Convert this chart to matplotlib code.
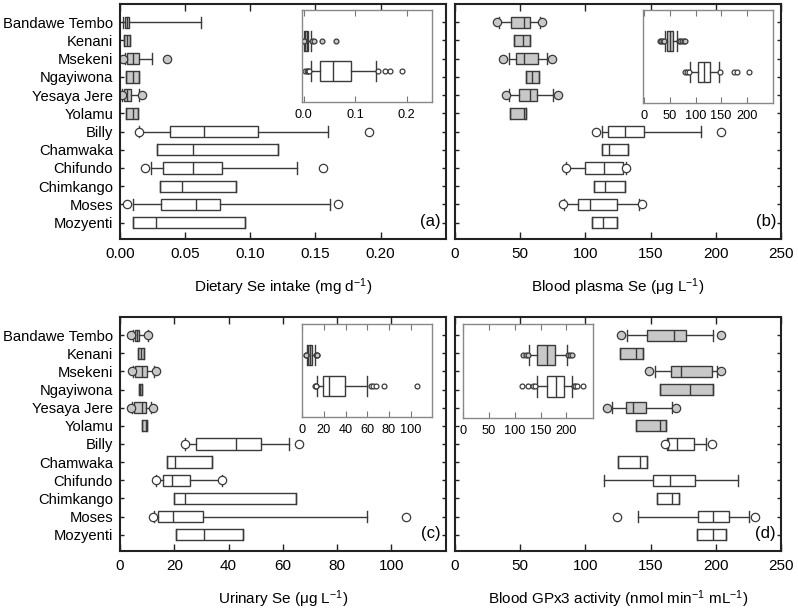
import matplotlib
matplotlib.use('Agg')
import matplotlib.pyplot as plt
import numpy as np

plt.rcParams['font.family'] = ['Liberation Sans', 'DejaVu Sans']
plt.rcParams['mathtext.default'] = 'regular'

villages = ['Bandawe Tembo', 'Kenani', 'Msekeni', 'Ngayiwona', 'Yesaya Jere', 'Yolamu',
            'Billy', 'Chamwaka', 'Chifundo', 'Chimkango', 'Moses', 'Mozyenti']
n_low = 6  # first six villages: low-Se soils (grey boxes)

# ---------------- (a) Dietary Se intake (mg/d) ----------------
diet_q1 = [0.0038, 0.0031, 0.0054, 0.0044, 0.0028, 0.0049, 0.0384, 0.0281, 0.0327, 0.0304, 0.0317, 0.0102]
diet_med = [0.0057, 0.0051, 0.0100, 0.0100, 0.0054, 0.0097, 0.0647, 0.0557, 0.0563, 0.0476, 0.0581, 0.0274]
diet_q3 = [0.0072, 0.0074, 0.0143, 0.0148, 0.0084, 0.0141, 0.1056, 0.1215, 0.0780, 0.0890, 0.0767, 0.0962]
diet_lo = [0.0020, 0.0031, 0.0040, 0.0044, 0.0018, 0.0049, 0.0148, 0.0281, 0.0235, 0.0304, 0.0102, 0.0102]
diet_hi = [0.0621, 0.0074, 0.0243, 0.0148, 0.0148, 0.0141, 0.1598, 0.1215, 0.1360, 0.0890, 0.1611, 0.0962]
diet_fl = [[], [], [0.0026, 0.0358], [], [0.0012, 0.0169], [], [0.0146, 0.1913], [],
           [0.0192, 0.1555], [], [0.0054, 0.1675], []]
# inset: [low-Se group, high-Se group]
diet_in_q1 = [0.0032, 0.031]
diet_in_med = [0.0060, 0.056]
diet_in_q3 = [0.0090, 0.091]
diet_in_lo = [0.0010, 0.014]
diet_in_hi = [0.0140, 0.140]
diet_in_fl = [[0.0003, 0.0006, 0.016, 0.019, 0.036, 0.062],
              [0.003, 0.006, 0.009, 0.011, 0.145, 0.157, 0.168, 0.192]]

# ---------------- (b) Blood plasma Se (ug/L) ----------------
plas_q1 = [42.9, 45.2, 46.8, 54.2, 49.3, 42.4, 117.3, 113.0, 99.5, 106.6, 94.6, 104.8]
plas_med = [53.2, 52.1, 53.2, 59.3, 57.3, 52.6, 130.6, 118.3, 114.3, 115.0, 103.5, 113.8]
plas_q3 = [57.7, 57.5, 63.7, 64.7, 63.1, 54.7, 145.2, 132.4, 128.6, 130.6, 124.5, 124.5]
plas_lo = [34.0, 45.2, 41.7, 54.2, 41.2, 42.4, 112.7, 113.0, 85.1, 106.6, 83.6, 104.8]
plas_hi = [65.2, 57.5, 70.5, 64.7, 75.4, 54.7, 188.7, 132.4, 131.1, 130.6, 141.4, 124.5]
plas_fl = [[32.5, 67.0], [], [36.6, 74.1], [], [39.4, 79.0], [], [108.4, 204.0], [],
           [85.0, 131.1], [], [82.6, 143.1], []]
plas_in_q1 = [44.5, 104.0]
plas_in_med = [50.5, 116.0]
plas_in_q3 = [57.0, 129.0]
plas_in_lo = [40.0, 90.0]
plas_in_hi = [64.0, 145.0]
plas_in_fl = [[30.0, 33.0, 36.0, 38.0, 67.0, 70.0, 73.0, 77.0, 79.0],
              [79.0, 83.0, 87.0, 147.0, 176.0, 181.0, 204.7]]

# ---------------- (c) Urinary Se (ug/L) ----------------
uri_q1 = [5.5, 6.6, 5.5, 7.0, 5.3, 8.0, 27.9, 17.5, 16.0, 19.8, 14.0, 20.5]
uri_med = [6.1, 7.7, 8.0, 7.5, 8.0, 9.6, 42.9, 20.2, 19.0, 24.1, 19.7, 31.1]
uri_q3 = [7.1, 8.8, 9.8, 8.0, 9.6, 10.0, 52.1, 33.9, 25.8, 64.9, 30.4, 45.3]
uri_lo = [4.7, 6.6, 4.9, 7.0, 4.5, 8.0, 24.1, 17.5, 13.2, 19.8, 12.5, 20.5]
uri_hi = [10.5, 8.8, 12.5, 8.0, 11.3, 10.0, 62.2, 33.9, 37.4, 64.9, 90.9, 45.3]
uri_fl = [[4.2, 10.5], [], [4.3, 13.1], [], [4.1, 12.0], [], [24.1, 65.9], [],
          [13.2, 37.4], [], [12.1, 105.3], []]
uri_in_q1 = [5.5, 18.8]
uri_in_med = [7.4, 25.0]
uri_in_q3 = [9.2, 39.7]
uri_in_lo = [4.0, 13.3]
uri_in_hi = [11.7, 59.7]
uri_in_fl = [[3.0, 3.6, 12.5, 13.2, 13.8],
             [11.5, 12.3, 13.0, 63.1, 65.5, 67.7, 75.1, 105.6]]

# ---------------- (d) Blood GPx3 activity (nmol/min/mL) ----------------
gpx_q1 = [147.5, 126.5, 165.9, 157.2, 130.9, 138.8, 163.6, 125.3, 151.6, 154.7, 186.1, 185.3]
gpx_med = [167.7, 138.8, 173.6, 180.5, 136.3, 157.0, 170.2, 141.9, 164.9, 166.7, 198.1, 198.1]
gpx_q3 = [177.1, 144.4, 196.8, 198.1, 146.5, 161.6, 183.3, 147.5, 184.0, 171.8, 210.4, 207.6]
gpx_lo = [131.6, 126.5, 153.6, 157.2, 120.4, 138.8, 162.3, 125.3, 114.3, 154.7, 140.6, 185.3]
gpx_hi = [198.1, 144.4, 200.7, 198.1, 166.7, 161.6, 192.5, 147.5, 217.3, 171.8, 225.7, 207.6]
gpx_fl = [[127.6, 203.7], [], [148.8, 203.7], [], [116.3, 169.5], [], [161.0, 197.3], [],
          [], [], [124.5, 230.0], []]
gpx_in_q1 = [142.8, 161.6]
gpx_in_med = [162.2, 179.6]
gpx_in_q3 = [178.3, 195.7]
gpx_in_lo = [127.3, 143.4]
gpx_in_hi = [200.3, 211.2]
gpx_in_fl = [[116.0, 121.0, 126.0, 203.5, 206.0, 210.0],
             [114.3, 126.0, 135.7, 139.0, 214.5, 217.0, 219.7, 231.3]]

EDGE = '#3a3a3a'
GREY = '#c8c8c8'
FS = 10.6


def make_stats(q1, med, q3, lo, hi, fl):
    return [dict(q1=a, med=m, q3=b, whislo=l, whishi=h, fliers=np.array(f, dtype=float))
            for a, m, b, l, h, f in zip(q1, med, q3, lo, hi, fl)]


def draw(ax, stats, positions, face, width, msize, mew):
    ax.bxp(stats, positions=positions, widths=width, capwidths=width,
           orientation='horizontal', patch_artist=True, manage_ticks=False,
           boxprops=dict(facecolor=face, edgecolor=EDGE, linewidth=1.0),
           medianprops=dict(color=EDGE, linewidth=1.0),
           whiskerprops=dict(color=EDGE, linewidth=1.0),
           capprops=dict(color=EDGE, linewidth=1.0),
           flierprops=dict(marker='o', markersize=msize, markerfacecolor=face,
                           markeredgecolor=EDGE, markeredgewidth=mew, linestyle='none'))


fig = plt.figure(figsize=(7.98, 6.11), dpi=100)
W, H = 798.0, 611.0

panels = [
    dict(box=(120, 4, 445.7, 239), data=(diet_q1, diet_med, diet_q3, diet_lo, diet_hi, diet_fl),
         ins=(diet_in_q1, diet_in_med, diet_in_q3, diet_in_lo, diet_in_hi, diet_in_fl),
         xlim=(0, 0.25), xticks=[0, 0.05, 0.10, 0.15, 0.20],
         xticklabels=['0.00', '0.05', '0.10', '0.15', '0.20'],
         xlabel='Dietary Se intake (mg d$^{-1}$)', tag='(a)', ylabels=True,
         inbox=(302.3, 10, 432.3, 101.7), inxlim=(-0.003, 0.25), inxticks=[0, 0.1, 0.2],
         inxticklabels=['0.0', '0.1', '0.2']),
    dict(box=(455, 4, 781, 239), data=(plas_q1, plas_med, plas_q3, plas_lo, plas_hi, plas_fl),
         ins=(plas_in_q1, plas_in_med, plas_in_q3, plas_in_lo, plas_in_hi, plas_in_fl),
         xlim=(0, 250), xticks=[0, 50, 100, 150, 200, 250],
         xticklabels=['0', '50', '100', '150', '200', '250'],
         xlabel='Blood plasma Se (μg L$^{-1}$)', tag='(b)', ylabels=False,
         inbox=(643.3, 10, 773.3, 102.7), inxlim=(-2, 252), inxticks=[0, 50, 100, 150, 200],
         inxticklabels=['0', '50', '100', '150', '200']),
    dict(box=(120, 317, 445.7, 551), data=(uri_q1, uri_med, uri_q3, uri_lo, uri_hi, uri_fl),
         ins=(uri_in_q1, uri_in_med, uri_in_q3, uri_in_lo, uri_in_hi, uri_in_fl),
         xlim=(0, 120), xticks=[0, 20, 40, 60, 80, 100],
         xticklabels=['0', '20', '40', '60', '80', '100'],
         xlabel='Urinary Se (μg L$^{-1}$)', tag='(c)', ylabels=True,
         inbox=(302.3, 324, 432.3, 417.3), inxlim=(0, 120), inxticks=[0, 20, 40, 60, 80, 100],
         inxticklabels=['0', '20', '40', '60', '80', '100']),
    dict(box=(455, 317, 781, 551), data=(gpx_q1, gpx_med, gpx_q3, gpx_lo, gpx_hi, gpx_fl),
         ins=(gpx_in_q1, gpx_in_med, gpx_in_q3, gpx_in_lo, gpx_in_hi, gpx_in_fl),
         xlim=(0, 250), xticks=[0, 50, 100, 150, 200, 250],
         xticklabels=['0', '50', '100', '150', '200', '250'],
         xlabel='Blood GPx3 activity (nmol min$^{-1}$ mL$^{-1}$)', tag='(d)', ylabels=False,
         inbox=(463.3, 324, 593.3, 417.7), inxlim=(0, 252), inxticks=[0, 50, 100, 150, 200],
         inxticklabels=['0', '50', '100', '150', '200']),
]

pos = np.arange(1, len(villages) + 1)

for p in panels:
    x0, y0, x1, y1 = p['box']
    ax = fig.add_axes([x0 / W, 1 - y1 / H, (x1 - x0) / W, (y1 - y0) / H])
    st = make_stats(*p['data'])
    draw(ax, st[:n_low], pos[:n_low], GREY, 0.62, 6, 0.9)
    draw(ax, st[n_low:], pos[n_low:], 'white', 0.62, 6, 0.9)
    ax.set_xlim(*p['xlim'])
    ax.set_ylim(12.9, 0.0)
    ax.set_xticks(p['xticks'])
    ax.set_xticklabels(p['xticklabels'])
    ax.set_yticks(pos)
    if p['ylabels']:
        ax.set_yticklabels(villages)
    else:
        ax.set_yticklabels([])
    ax.tick_params(axis='x', direction='in', top=True, length=5, width=1.0,
                   labelsize=FS + 0.4, pad=6, color='#222222')
    ax.tick_params(axis='y', direction='in', right=True, length=3, width=1.0,
                   labelsize=FS, pad=5, color='#222222')
    for s in ax.spines.values():
        s.set_linewidth(1.5)
        s.set_color('#222222')
    ax.set_xlabel(p['xlabel'], fontsize=FS + 0.4, labelpad=11)
    ax.text(0.985, 0.075, p['tag'], transform=ax.transAxes, ha='right', va='center',
            fontsize=12)

    # inset
    ix0, iy0, ix1, iy1 = p['inbox']
    ia = fig.add_axes([ix0 / W, 1 - iy1 / H, (ix1 - ix0) / W, (iy1 - iy0) / H])
    ist = make_stats(*p['ins'])
    draw(ia, ist[:1], [1], GREY, 0.65, 3.5, 0.9)
    draw(ia, ist[1:], [2], 'white', 0.65, 3.5, 0.9)
    ia.set_xlim(*p['inxlim'])
    ia.set_ylim(3, 0)
    ia.set_yticks([])
    ia.set_xticks(p['inxticks'])
    ia.set_xticklabels(p['inxticklabels'])
    ia.tick_params(axis='x', direction='in', top=True, length=4, width=0.8,
                   labelsize=9.2, pad=5, color='#777777')
    for s in ia.spines.values():
        s.set_linewidth(1.0)
        s.set_color('#888888')
    ia.set_facecolor('white')

fig.savefig('out.png', dpi=100)
